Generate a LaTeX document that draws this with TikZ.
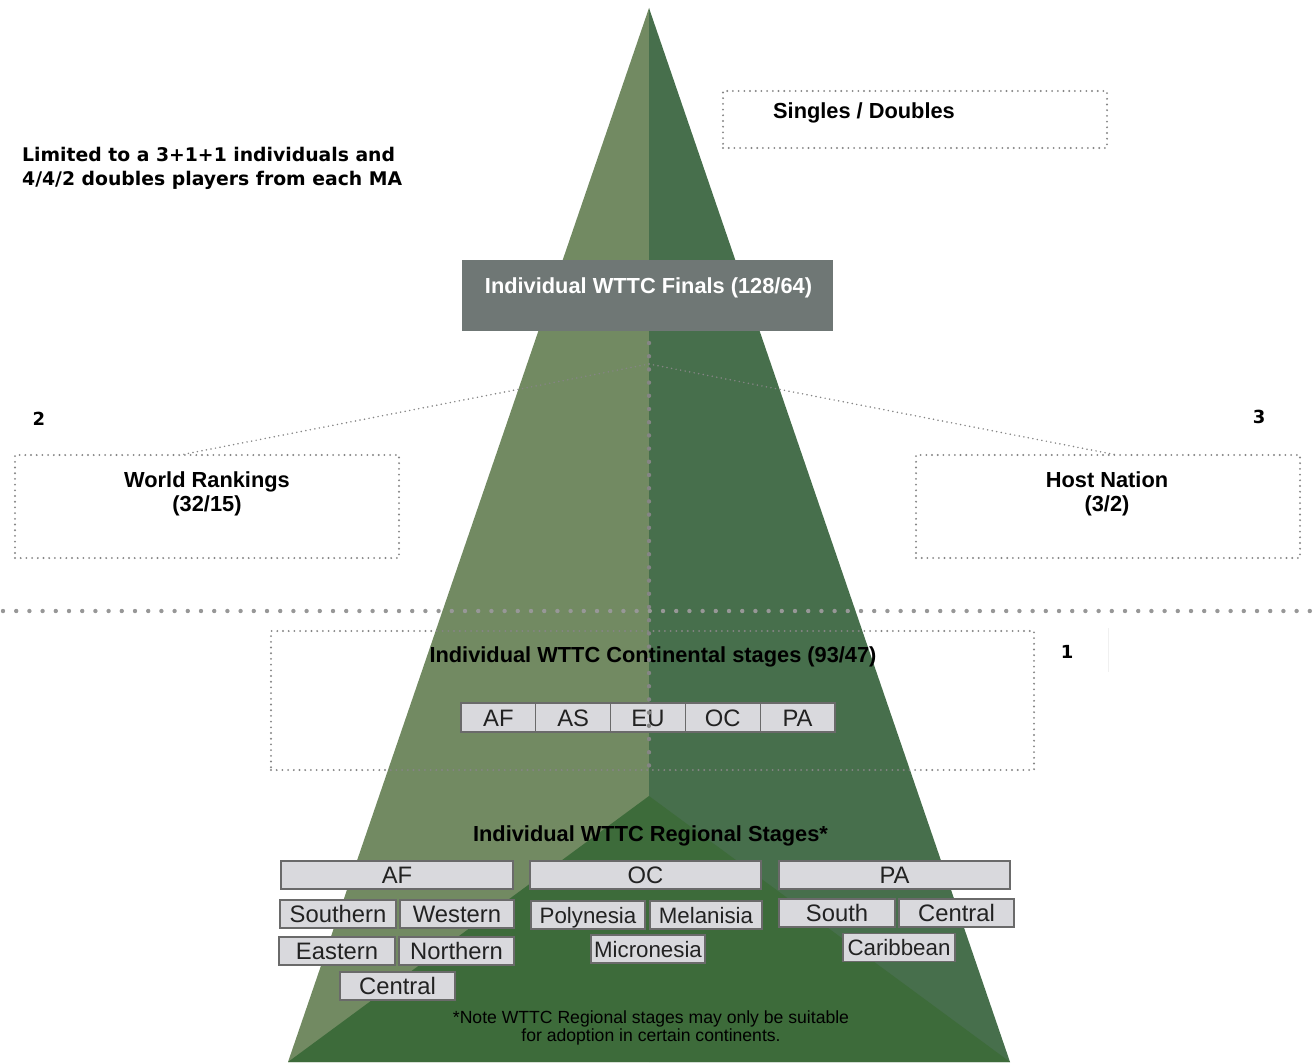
\documentclass[tikz,border=0pt]{standalone}
\usepackage{fontspec}
\setmainfont{Liberation Sans}
\newfontfamily\verd{DejaVu Sans}
\definecolor{lightG}{HTML}{728A62}
\definecolor{darkG}{HTML}{476F4C}
\definecolor{innerG}{HTML}{3D6B3A}
\definecolor{finGray}{HTML}{6F7775}
\definecolor{boxFill}{HTML}{D9D9DD}
\definecolor{boxLine}{HTML}{6A6A6A}
\definecolor{dotGray}{HTML}{858585}
\definecolor{txtDark}{HTML}{222222}
\tikzset{
  blbl/.style={font=\fontsize{21.8}{23.5}\selectfont\bfseries, text=black, inner sep=0pt},
  numlbl/.style={font=\verd\fontsize{18}{20}\selectfont\bfseries, text=black, inner sep=0pt, anchor=base},
  dotbox/.style={draw=dotGray, line width=2.1pt, dash pattern=on 0pt off 5.7pt, line cap=round, inner sep=0pt},
  bigdots/.style={draw=dotGray, line width=4.4pt, dash pattern=on 0pt off 13.2pt, line cap=round},
  finedots/.style={draw=dotGray, line width=1.7pt, dash pattern=on 0pt off 4.6pt, line cap=round},
  gbox/.style={draw=boxLine, fill=boxFill, line width=1.1pt, inner sep=0pt, minimum height=28pt,
     text height=17pt, text depth=0pt, font=\fontsize{23.8}{26}\selectfont, text=txtDark},
  gboxs/.style={gbox, font=\fontsize{22.3}{24}\selectfont, text height=16pt},
}
\begin{document}
\begin{tikzpicture}[x=1pt,y=-1pt]
\useasboundingbox (0,0) rectangle (1313,1062);
% pyramid
\fill[lightG] (649,8) -- (288,1062) -- (649,1062) -- cycle;
\fill[darkG] (649,8) -- (649,1062) -- (1010,1062) -- cycle;
\fill[innerG] (649,796) -- (288,1062) -- (1010,1062) -- cycle;

% finals box
\node[fill=finGray, inner sep=0pt, minimum width=371pt, minimum height=71pt] (finals) at (647.5,295.5) {};
\node[blbl, text=white, anchor=base] (finalsT) at (648.5,293.5) {Individual WTTC Finals (128/64)};

% top-left note
\node[font=\verd\fontsize{18.8}{24}\selectfont\bfseries, align=left, anchor=north west, inner sep=0pt] (limit) at (22,147)
  {Limited to a 3+1+1 individuals and\\4/4/2 doubles players from each MA};

% singles / doubles
\node[dotbox, minimum width=384pt, minimum height=57pt] (sd) at (915,119.5) {};
\node[blbl, anchor=base] (sdT) at (864,118) {Singles / Doubles};

% world rankings / host nation
\node[dotbox, minimum width=384pt, minimum height=103pt] (wr) at (207,506.5) {};
\node[blbl, align=center, anchor=north] (wrT) at (207,471.5) {World Rankings\\[0.5pt](32/15)};
\node[dotbox, minimum width=384pt, minimum height=103pt] (hn) at (1108,506.5) {};
\node[blbl, align=center, anchor=north] (hnT) at (1107,471.5) {Host Nation\\[0.5pt](3/2)};

\node[numlbl] (n2) at (39,425) {2};
\node[numlbl] (n3) at (1259,423) {3};
\node[numlbl] (n1) at (1067,658) {1};
\coordinate (faintA) at (1108,628);
\coordinate (faintB) at (1108,672);
\draw[black!6, line width=0.8pt] (faintA) -- (faintB);

% connectors to the hub
\coordinate (hub) at (649,364);
\coordinate (wrTop) at (180,455);
\coordinate (hnTop) at (1117,455);
\draw[finedots] (hub) -- (wrTop);
\draw[finedots] (hub) -- (hnTop);

% separator
\coordinate (sepL) at (3,611);
\coordinate (sepR) at (1313,611);
\draw[bigdots, draw=dotGray!85] (sepL) -- (sepR);

% continental
\node[dotbox, minimum width=763pt, minimum height=139pt] (cont) at (652.5,700.5) {};
\node[blbl, anchor=base] (contT) at (653,662) {Individual WTTC Continental stages (93/47)};
\foreach \lab [count=\i] in {AF,AS,EU,OC,PA}{
  \node[gbox, minimum width=74.8pt, minimum height=29pt] (c\lab) at ({461+74.8*(\i-0.5)},717.5) {\lab};
}
\coordinate (vTop) at (649,343);
\draw[bigdots] (vTop) -- (cont.south -| vTop);

% regional
\node[blbl, anchor=base] (regT) at (650.5,841) {Individual WTTC Regional Stages*};
\node[gbox, minimum width=232pt] (rAF) at (397,875) {AF};
\node[gbox, minimum width=231pt] (rOC) at (645.5,875) {OC};
\node[gbox, minimum width=231pt] (rPA) at (894.5,875) {PA};

\node[gbox, minimum width=116pt] (southern) at (338,914) {Southern};
\node[gbox, minimum width=114pt] (western) at (457,914) {Western};
\node[gbox, minimum width=116pt] (eastern) at (337,951) {Eastern};
\node[gbox, minimum width=115pt] (northern) at (456.5,951) {Northern};
\node[gbox, minimum width=115pt] (centralAF) at (397.5,986) {Central};

\node[gboxs, minimum width=114pt] (polynesia) at (588,915) {Polynesia};
\node[gboxs, minimum width=112pt] (melanisia) at (706,915) {Melanisia};
\node[gboxs, minimum width=114pt] (micronesia) at (648,949) {Micronesia};

\node[gbox, minimum width=116pt] (south) at (837,913) {South};
\node[gbox, minimum width=115pt] (centralPA) at (956.5,913) {Central};
\node[gboxs, minimum width=112pt] (caribbean) at (899,947.5) {Caribbean};

\node[font=\fontsize{17.6}{18.5}\selectfont, align=center, inner sep=0pt, text=black] (note) at (651,1028)
  {*Note WTTC Regional stages may only be suitable\\for adoption in certain continents.};
\end{tikzpicture}
\end{document}
